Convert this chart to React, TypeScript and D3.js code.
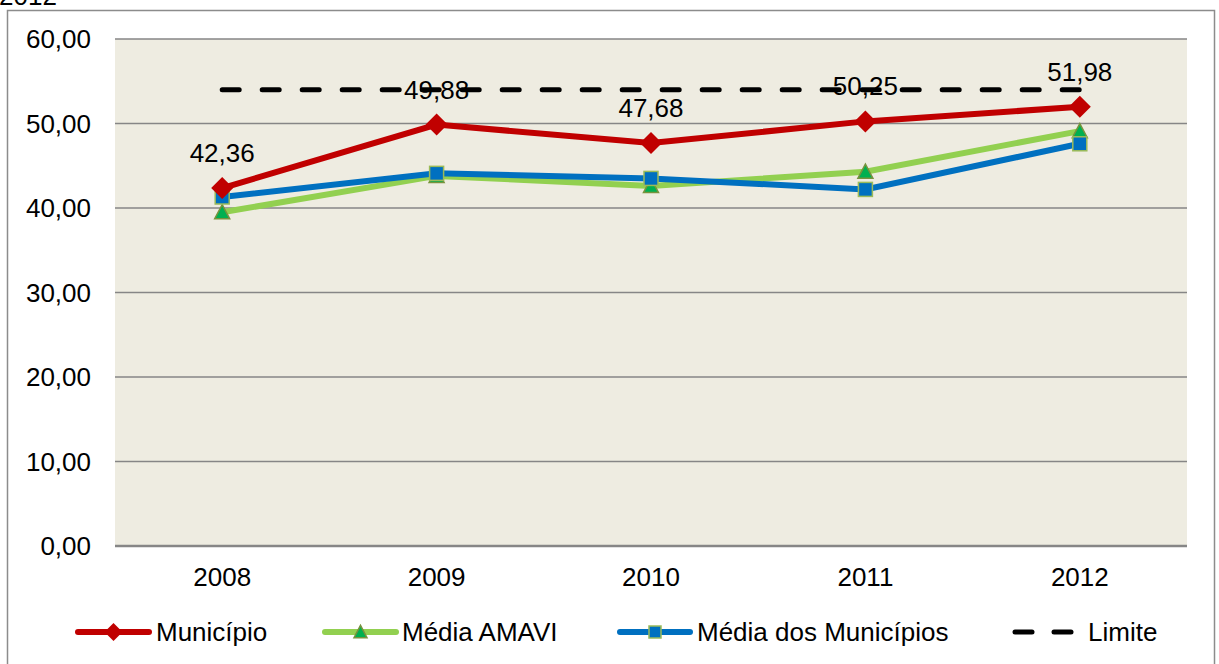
import * as d3 from 'd3'

const years = ['2008', '2009', '2010', '2011', '2012']
const municipio = [42.36, 49.88, 47.68, 50.25, 51.98]
const mediaAmavi = [39.5, 43.8, 42.6, 44.3, 49.1]
const mediaMunicipios = [41.3, 44.1, 43.5, 42.2, 47.6]
const limite = [54, 54, 54, 54, 54]
const yTicks = [0, 10, 20, 30, 40, 50, 60]
const legendLabels = ['Município', 'Média AMAVI', 'Média dos Municípios', 'Limite']

const W = 1219
const H = 664
const plot = { left: 115, right: 1187, top: 39, bottom: 546 }

const RED = '#C00000'
const GREEN = '#92D050'
const BLUE = '#0070C0'
const FONT = '"Liberation Sans", Arial, sans-serif'

const fmt = (v: number) => v.toFixed(2).replace('.', ',')

function Diamond({ x, y, r = 11 }: { x: number; y: number; r?: number }) {
  return (
    <path
      d={`M${x},${y - r}L${x + r},${y}L${x},${y + r}L${x - r},${y}Z`}
      fill={RED}
    />
  )
}

function Triangle({ x, y, s = 15 }: { x: number; y: number; s?: number }) {
  const h = s * 0.87
  return (
    <path
      d={`M${x},${y - h / 2 - 1}L${x + s / 2},${y + h / 2}L${x - s / 2},${y + h / 2}Z`}
      fill="#00B050"
      stroke="#77933C"
      strokeWidth={1.5}
    />
  )
}

function Square({ x, y, s = 14 }: { x: number; y: number; s?: number }) {
  return (
    <rect x={x - s / 2} y={y - s / 2} width={s} height={s} fill={BLUE} stroke="#9BBB59" strokeWidth={1.5} />
  )
}

export default function App() {
  const xBand = d3.scaleBand<string>().domain(years).range([plot.left, plot.right])
  const xc = (d: string) => (xBand(d) ?? 0) + xBand.bandwidth() / 2
  const y = d3.scaleLinear().domain([0, 60]).range([plot.bottom, plot.top])

  const line = d3
    .line<number>()
    .x((_, i) => xc(years[i]))
    .y((d) => y(d))

  const legendY = 632
  const legendItems = [
    { x1: 78, x2: 149, tx: 156, kind: 'red' },
    { x1: 325, x2: 396, tx: 402, kind: 'green' },
    { x1: 620, x2: 690, tx: 697, kind: 'blue' },
    { x1: 1012, x2: 1074, tx: 1088, kind: 'dash' },
  ]

  return (
    <svg
      width={W}
      height={H}
      style={{ position: 'absolute', left: 0, top: 0, background: '#fff' }}
      fontFamily={FONT}
    >
      <text x={-1} y={5} fontSize={26} fill="#000">2012</text>
      <rect x={7.5} y={10.5} width={1207} height={H} fill="#fff" stroke="#8c8c8c" strokeWidth={1.5} />

      {/* plot area */}
      <rect x={plot.left} y={plot.top} width={plot.right - plot.left} height={plot.bottom - plot.top} fill="#EEECE1" />
      {yTicks.map((t) => (
        <line
          key={t}
          x1={plot.left}
          x2={plot.right}
          y1={y(t)}
          y2={y(t)}
          stroke="#868686"
          strokeWidth={t === 0 ? 2.5 : 1.5}
        />
      ))}
      {yTicks.map((t) => (
        <text key={'l' + t} x={91} y={y(t)} dy="0.35em" textAnchor="end" fontSize={26} fill="#000">
          {fmt(t)}
        </text>
      ))}
      {years.map((yr) => (
        <text key={yr} x={xc(yr)} y={586} textAnchor="middle" fontSize={26} fill="#000">
          {yr}
        </text>
      ))}

      {/* limite */}
      <path
        d={line(limite) ?? ''}
        fill="none"
        stroke="#000"
        strokeWidth={5}
        strokeDasharray="17 23"
        strokeLinecap="round"
        transform="translate(0,0)"
      />

      {/* series lines */}
      <path d={line(mediaAmavi) ?? ''} fill="none" stroke={GREEN} strokeWidth={6} />
      <path d={line(mediaMunicipios) ?? ''} fill="none" stroke={BLUE} strokeWidth={6} />
      <path d={line(municipio) ?? ''} fill="none" stroke={RED} strokeWidth={6} />

      {mediaAmavi.map((v, i) => (
        <Triangle key={'t' + i} x={xc(years[i])} y={y(v)} />
      ))}
      {mediaMunicipios.map((v, i) => (
        <Square key={'s' + i} x={xc(years[i])} y={y(v)} />
      ))}
      {municipio.map((v, i) => (
        <Diamond key={'d' + i} x={xc(years[i])} y={y(v)} />
      ))}

      {municipio.map((v, i) => (
        <text key={'v' + i} x={xc(years[i])} y={y(v) - 26} textAnchor="middle" fontSize={26} fill="#000">
          {fmt(v)}
        </text>
      ))}

      {/* legend */}
      {legendItems.map((it, i) => {
        const cx = (it.x1 + it.x2) / 2
        return (
          <g key={'lg' + i}>
            {it.kind === 'dash' ? (
              <>
                <line x1={it.x1 + 3} x2={it.x1 + 20} y1={legendY} y2={legendY} stroke="#000" strokeWidth={5} strokeLinecap="round" />
                <line x1={it.x2 - 20} x2={it.x2 - 3} y1={legendY} y2={legendY} stroke="#000" strokeWidth={5} strokeLinecap="round" />
              </>
            ) : (
              <line
                x1={it.x1}
                x2={it.x2}
                y1={legendY}
                y2={legendY}
                stroke={it.kind === 'red' ? RED : it.kind === 'green' ? GREEN : BLUE}
                strokeWidth={6}
                strokeLinecap="round"
              />
            )}
            {it.kind === 'red' && <Diamond x={cx} y={legendY} r={9} />}
            {it.kind === 'green' && <Triangle x={cx} y={legendY} s={13} />}
            {it.kind === 'blue' && <Square x={cx} y={legendY} s={12} />}
            <text x={it.tx} y={legendY} dy="0.35em" fontSize={26} fill="#000">
              {legendLabels[i]}
            </text>
          </g>
        )
      })}
    </svg>
  )
}
